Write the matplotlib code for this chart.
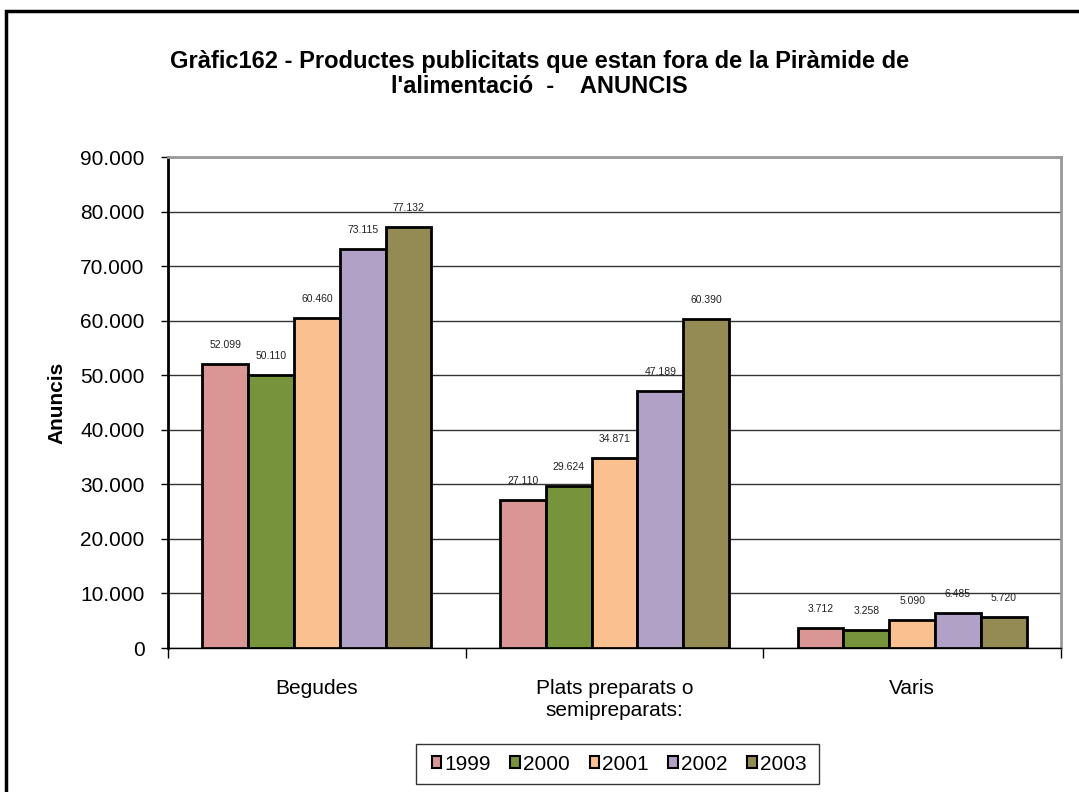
import numpy as np
import matplotlib
matplotlib.use("Agg")
from matplotlib import pyplot as plt
from matplotlib.patches import Rectangle

plt.rcParams['font.family'] = ['Liberation Sans', 'DejaVu Sans']

categories = ['Begudes', 'Plats preparats o\nsemipreparats:', 'Varis']
years = ['1999', '2000', '2001', '2002', '2003']
v1999 = [52099, 27110, 3712]
v2000 = [50110, 29624, 3258]
v2001 = [60460, 34871, 5090]
v2002 = [73115, 47189, 6485]
v2003 = [77132, 60390, 5720]
series = [v1999, v2000, v2001, v2002, v2003]
colors = ['#D99694', '#77933C', '#FAC090', '#B2A1C7', '#948A54']

fig = plt.figure(figsize=(10.79, 7.92), dpi=100)
ax = fig.add_axes([168 / 1079, 1 - 648 / 792, 893 / 1079, 491 / 792])

# outer chart border
fig.patches.append(Rectangle((6 / 1079, -0.05), 1.1, 1 - 11 / 792 + 0.05,
                             transform=fig.transFigure, fill=False,
                             edgecolor='black', linewidth=2.5))

x = np.arange(len(categories))
n = len(series)
w = 1 / (n + 1.5)
for i, (vals, col, yr) in enumerate(zip(series, colors, years)):
    pos = x + (i - (n - 1) / 2) * w
    bars = ax.bar(pos, vals, width=w, color=col, edgecolor='black',
                  linewidth=2, label=yr, zorder=3)
    for b, v in zip(bars, vals):
        ax.annotate(f'{v:,}'.replace(',', '.'),
                    (b.get_x() + b.get_width() / 2, v),
                    xytext=(0, 10), textcoords='offset points',
                    ha='center', va='bottom', fontsize=7.5, color='#222222')

ax.set_xlim(-0.5, len(categories) - 0.5)
ax.set_ylim(0, 90000)
ax.set_yticks(np.arange(0, 90001, 10000))
ax.set_yticklabels([f'{t:,}'.replace(',', '.') for t in range(0, 90001, 10000)],
                   fontsize=15)
ax.yaxis.grid(True, color='#333333', linewidth=1, zorder=0)
ax.set_axisbelow(True)

ax.set_xticks(x)
ax.set_xticklabels(categories, fontsize=15)
ax.tick_params(axis='x', length=0, pad=22)
ax.set_xticks(np.arange(-0.5, len(categories)), minor=True)
ax.tick_params(axis='x', which='minor', length=7, width=1, direction='out')
ax.tick_params(axis='y', length=5, width=1, direction='out', pad=12)

for s in ['top', 'right']:
    ax.spines[s].set_color('#999999')
    ax.spines[s].set_linewidth(2)
ax.spines['left'].set_linewidth(2)
ax.spines['bottom'].set_linewidth(1)

ax.set_ylabel('Anuncis', fontsize=15, fontweight='bold', labelpad=10)

fig.text(0.5, 1 - 74 / 792,
         "Gràfic162 - Productes publicitats que estan fora de la Piràmide de\n"
         "l'alimentació  -    ANUNCIS",
         ha='center', va='center', fontsize=17, fontweight='bold',
         linespacing=1.1)

# legend with its own frame
fig.patches.append(Rectangle((416 / 1079, 1 - 784 / 792), 403 / 1079, 40 / 792,
                             transform=fig.transFigure, fill=False,
                             edgecolor='#333333', linewidth=1))
leg = fig.legend(loc='center', bbox_to_anchor=(619 / 1079, 1 - 764 / 792),
                 ncol=5, fontsize=15, frameon=False,
                 handlelength=0.45, handleheight=0.45,
                 handletextpad=0.15, columnspacing=0.95)
for h in leg.legend_handles:
    h.set_linewidth(1.5)

fig.savefig('out.png', dpi=100)
